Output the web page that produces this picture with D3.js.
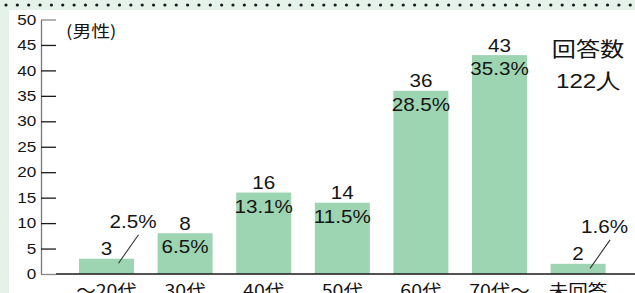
<!DOCTYPE html>
<html lang="ja">
<head>
<meta charset="utf-8">
<title>回答数（男性）</title>
<script src="https://cdnjs.cloudflare.com/ajax/libs/d3/7.8.5/d3.min.js"></script>
<style>
  body { margin:0; background:#fff; }
  svg { display:block; }
</style>
</head>
<body>
<svg id="chart" width="635" height="293"></svg>
<script>
// data
var categories = ["～20代", "30代", "40代", "50代", "60代", "70代～", "未回答"];
var counts     = [3, 8, 16, 14, 36, 43, 2];
var percents   = ["2.5%", "6.5%", "13.1%", "11.5%", "28.5%", "35.3%", "1.6%"];
var yTicks     = [0, 5, 10, 15, 20, 25, 30, 35, 40, 45, 50];
var groupLabel = "(男性)";
var totalLabel = ["回答数", "122人"];

var W = 635, H = 293;
var numFont = "'Liberation Sans', Arial, sans-serif";
var jpFont = "'Noto Sans CJK JP', 'Noto Sans', sans-serif";
var stretch = 1.18; // the original is a bit wide

var svg = d3.select("#chart");

// background strips
svg.append("rect").attr("x", 0).attr("y", 0).attr("width", 9).attr("height", H).attr("fill", "#e4f2e9");
svg.append("rect").attr("x", 0).attr("y", 0).attr("width", W).attr("height", 10).attr("fill", "#e4f2e9");
svg.append("g").selectAll("circle")
  .data(d3.range(56))
  .enter().append("circle")
  .attr("cx", function(d){ return 6 + d * 11.35; })
  .attr("cy", 5).attr("r", 1.6).attr("fill", "#1a1a1a");

var x = d3.scaleBand().domain(categories).range([67.2, 617.4])
  .paddingInner(0.3).paddingOuter(0.15);
var y = d3.scaleLinear().domain([0, 50]).range([274, 19.5]);

// stretched text helper
function label(g, txt, px, py, size, anchor, font) {
  return g.append("text")
    .attr("transform", "translate(" + px + "," + py + ") scale(" + stretch + ",1)")
    .attr("text-anchor", anchor || "middle")
    .attr("font-family", font || numFont)
    .attr("font-size", size)
    .attr("fill", "#151515")
    .text(txt);
}

// bars
svg.append("g").selectAll("rect")
  .data(counts)
  .enter().append("rect")
  .attr("x", function(d, i){ return x(categories[i]); })
  .attr("y", function(d){ return y(d); })
  .attr("width", x.bandwidth())
  .attr("height", function(d){ return y(0) - y(d); })
  .attr("fill", "#9dd4b1");

// y axis
var yAxis = d3.axisLeft(y).tickValues(yTicks).tickSizeInner(-15).tickSizeOuter(0).tickPadding(4);
var ag = svg.append("g").attr("transform", "translate(41,0)").call(yAxis);
ag.select(".domain").attr("stroke", "#777").attr("stroke-width", 1.3);
ag.selectAll(".tick line").attr("stroke", "#1a1a1a").attr("stroke-width", 1.3);
ag.selectAll(".tick").filter(function(d){ return d === 50 || d === 0; })
  .select("line").attr("stroke", "#888");
ag.selectAll(".tick text")
  .attr("font-family", numFont).attr("font-size", 14.5).attr("fill", "#151515")
  .attr("transform", "scale(" + stretch + ",1)");

// baseline
svg.append("line").attr("x1", 56).attr("x2", W).attr("y1", y(0)).attr("y2", y(0))
  .attr("stroke", "#1a1a1a").attr("stroke-width", 1.3);

// value labels
var lg = svg.append("g");
counts.forEach(function(v, i){
  var cx = x(categories[i]) + x.bandwidth() / 2;
  var top = y(v);
  label(lg, v, cx, top - 3.5, 17.5);
  if (y(0) - top > 22) {
    label(lg, percents[i], cx, top + 20, 17.5);
  } else {
    // small bar: percentage pulled out with a leader line
    lg.append("line")
      .attr("x1", cx + 12).attr("y1", top + 4.5)
      .attr("x2", cx + 32).attr("y2", top - 24)
      .attr("stroke", "#333").attr("stroke-width", 1.1);
    label(lg, percents[i], cx + 3, top - 31, 17.5, "start");
  }
});

// category labels
svg.append("g").selectAll("text")
  .data(categories)
  .enter().append("text")
  .attr("transform", function(d){
    return "translate(" + (x(d) + x.bandwidth() / 2) + ",297) scale(1.15,1)";
  })
  .attr("text-anchor", "middle")
  .attr("font-family", jpFont).attr("font-size", 17).attr("fill", "#151515")
  .text(function(d){ return d; });

// group and total labels
label(svg, groupLabel, 66, 37, 16, "start", jpFont);
label(svg, totalLabel[0], 588, 57, 20.5, "middle", jpFont);
label(svg, totalLabel[1], 588, 88, 20.5, "middle", numFont);
</script>
</body>
</html>
